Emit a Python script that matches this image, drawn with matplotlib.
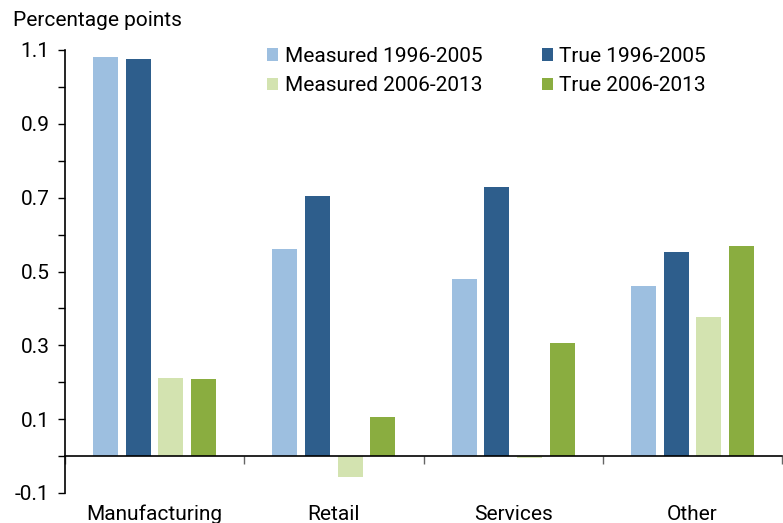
import matplotlib
matplotlib.use("Agg")
import matplotlib.pyplot as plt
import numpy as np
from matplotlib.ticker import FixedLocator

plt.rcParams['font.family'] = ['Roboto', 'DejaVu Sans']

categories = ["Manufacturing", "Retail", "Services", "Other"]
series_names = ["Measured 1996-2005", "True 1996-2005", "Measured 2006-2013", "True 2006-2013"]
measured_9605 = [1.080, 0.562, 0.481, 0.462]
true_9605 = [1.075, 0.705, 0.730, 0.554]
measured_0613 = [0.211, -0.058, -0.005, 0.376]
true_0613 = [0.208, 0.107, 0.305, 0.570]
colors = ["#9dbfe0", "#2e5e8c", "#d3e3b0", "#8aad40"]
yticks_labeled = [-0.1, 0.1, 0.3, 0.5, 0.7, 0.9, 1.1]
yticks_minor = [0.0, 0.2, 0.4, 0.6, 0.8, 1.0]

series = [measured_9605, true_9605, measured_0613, true_0613]

fig = plt.figure(figsize=(7.83, 5.23), dpi=100)
ax = fig.add_axes([65/783, 30/523, (782-65)/783, (493-50)/523])

x = np.arange(len(categories)) + 0.5
width = 0.14
step = 0.182
offsets = (np.arange(4) - 1.5) * step
handles = []
for vals, off, c, name in zip(series, offsets, colors, series_names):
    h = ax.bar(x + off, vals, width=width, color=c, label=name, zorder=2)
    handles.append(h)

ax.set_xlim(0, len(categories))
ax.set_ylim(-0.1, 1.1)

ax.spines['top'].set_visible(False)
ax.spines['right'].set_visible(False)
ax.spines['bottom'].set_position(('data', 0))
ax.spines['bottom'].set_linewidth(1.2)
ax.spines['bottom'].set_zorder(3)
ax.spines['left'].set_linewidth(1.2)

ax.yaxis.set_major_locator(FixedLocator(yticks_labeled))
ax.yaxis.set_minor_locator(FixedLocator(yticks_minor))
ax.set_yticklabels([f"{v:g}" for v in yticks_labeled])
ax.tick_params(axis='y', which='both', direction='out', length=5, width=1, labelsize=15, pad=6)

ax.set_xticks(x)
ax.set_xticklabels(categories)
ax.xaxis.set_minor_locator(FixedLocator(np.arange(len(categories) + 1)))
ax.tick_params(axis='x', which='major', length=0, labelsize=15, pad=35)
ax.tick_params(axis='x', which='minor', length=6, width=1, color='#666666', direction='out')

fig.text(13/783, 1 - 21/523, "Percentage points", fontsize=15, va='center', ha='left')

order = [0, 2, 1, 3]
leg = ax.legend([handles[i] for i in order], [series_names[i] for i in order],
                ncol=2, loc='upper left', bbox_to_anchor=((267-65)/717, (493-47)/443),
                frameon=False, borderaxespad=0, borderpad=0,
                fontsize=15, handlelength=0.55, handleheight=0.55, handletextpad=0.3,
                columnspacing=2.85, labelspacing=0.5)

fig.savefig("out.png", dpi=100)
